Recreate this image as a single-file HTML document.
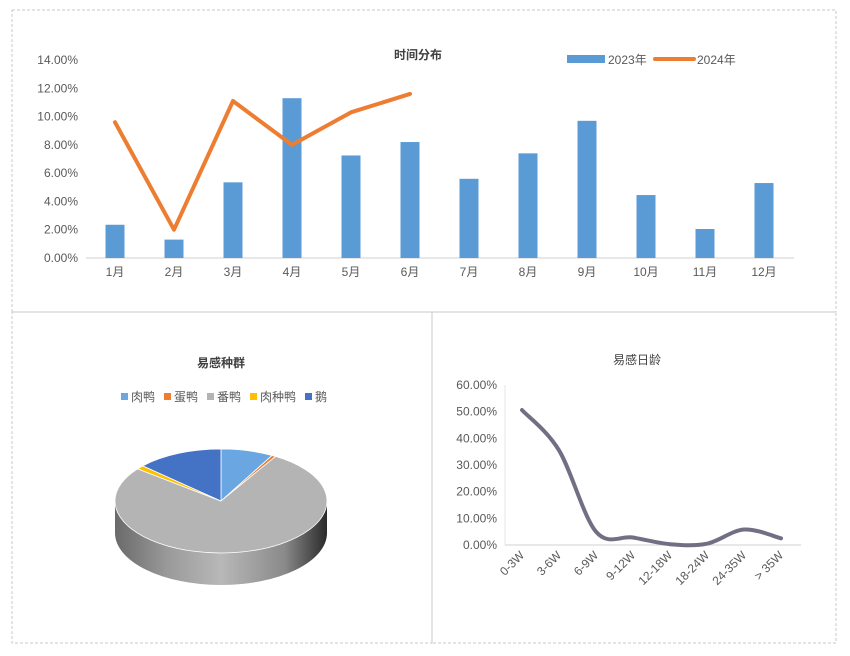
<!DOCTYPE html>
<html><head><meta charset="utf-8">
<style>
body{margin:0;background:#fff;font-family:"Liberation Sans","Noto Sans CJK SC",sans-serif;}
svg{display:block}
text{font-family:"Liberation Sans","Noto Sans CJK SC",sans-serif;fill:#595959;font-size:12px}
</style></head><body>
<svg width="850" height="656">
<rect x="12" y="10" width="824" height="302" fill="none" stroke="#c8c8c8" stroke-dasharray="3,2"/>
<rect x="12" y="312" width="420" height="331" fill="none" stroke="#c8c8c8" stroke-dasharray="3,2"/>
<rect x="432" y="312" width="404" height="331" fill="none" stroke="#c8c8c8" stroke-dasharray="3,2"/>
<g id="top"></g><g id="pie"></g><g id="age"></g>
</svg>
<script>
const months=['1月','2月','3月','4月','5月','6月','7月','8月','9月','10月','11月','12月'];
const s2023=[2.35,1.3,5.35,11.3,7.25,8.2,5.6,7.4,9.7,4.45,2.05,5.3];
const s2024=[9.6,2.0,11.1,8.0,10.3,11.6];
const topTicks=[0,2,4,6,8,10,12,14];
const species=['肉鸭','蛋鸭','番鸭','肉种鸭','鹅'];
const speciesVals=[8,0.6,77,1.2,13.2];
const ages=['0-3W','3-6W','6-9W','9-12W','12-18W','18-24W','24-35W','> 35W'];
const ageVals=[50.6,35.5,5,2.8,0.3,0.5,5.8,2.5];
const ageTicks=[0,10,20,30,40,50,60];

const NS='http://www.w3.org/2000/svg';
function mk(p,t,a,txt){const e=document.createElementNS(NS,t);for(const k in a)e.setAttribute(k,a[k]);if(txt!==undefined)e.textContent=txt;p.appendChild(e);return e;}

// top chart
const T=document.getElementById('top');
const ty=v=>258-v*14.143, tx=i=>115+i*59;
let e=mk(T,'text',{x:418,y:59,'text-anchor':'middle','font-weight':'bold','font-size':'13',style:'fill:#404040'},'时间分布');

topTicks.forEach(v=>{e=mk(T,'text',{x:78,y:ty(v)+4,'text-anchor':'end'},v.toFixed(2)+'%');
});
e=mk(T,'line',{x1:86,x2:794,y1:258,y2:258,stroke:'#d0d0d0'});

months.forEach((m,i)=>{e=mk(T,'text',{x:tx(i),y:276,'text-anchor':'middle'},m);
});
s2023.forEach((v,i)=>{e=mk(T,'rect',{x:tx(i)-9.5,y:ty(v),width:19,height:258-ty(v),fill:'#5b9bd5'});
});
e=mk(T,'polyline',{points:s2024.map((v,i)=>tx(i)+','+ty(v)).join(' '),fill:'none',stroke:'#ed7d31','stroke-width':4,'stroke-linejoin':'round','stroke-linecap':'round'});

e=mk(T,'rect',{x:567,y:55,width:38,height:8,fill:'#5b9bd5'});

e=mk(T,'text',{x:608,y:64},'2023年');
e=mk(T,'line',{x1:655,x2:694,y1:59,y2:59,stroke:'#ed7d31','stroke-width':4,'stroke-linecap':'round'});

e=mk(T,'text',{x:697,y:64},'2024年');

// pie
const P=document.getElementById('pie');
e=mk(P,'text',{x:221,y:367,'text-anchor':'middle','font-weight':'bold','font-size':'13',style:'fill:#404040'},'易感种群');

const cols=['#6aa7e2','#ed7d31','#b4b4b4','#ffc000','#4472c4'];
let lx=121;
species.forEach((s,i)=>{e=mk(P,'rect',{x:lx,y:393,width:7,height:7,fill:cols[i]});

e=mk(P,'text',{x:lx+10,y:401},s);
lx+=10+s.length*12+9;});
const cx=221,cy=501,rx=106,ry=52,dep=32;
const defs=mk(P,'defs',{});
const g=mk(defs,'linearGradient',{id:'side',x1:0,x2:1,y1:0,y2:0});
[['0','#6a6a6a'],['0.25','#9a9a9a'],['0.5','#b8b8b8'],['0.8','#8a8a8a'],['1','#2a2a2a']].forEach(s=>mk(g,'stop',{offset:s[0],'stop-color':s[1]}));
e=mk(P,'path',{d:`M${cx-rx},${cy} L${cx-rx},${cy+dep} A${rx},${ry} 0 0 0 ${cx+rx},${cy+dep} L${cx+rx},${cy} A${rx},${ry} 0 0 1 ${cx-rx},${cy}Z`,fill:'url(#side)'});

const tot=speciesVals.reduce((a,b)=>a+b,0);let acc=0;
speciesVals.forEach((v,i)=>{const a0=acc/tot*2*Math.PI;acc+=v;const a1=acc/tot*2*Math.PI;
const p=a=>[cx+rx*Math.sin(a),cy-ry*Math.cos(a)];const[x0,y0]=p(a0),[x1,y1]=p(a1);
e=mk(P,'path',{d:`M${cx},${cy} L${x0},${y0} A${rx},${ry} 0 ${a1-a0>Math.PI?1:0} 1 ${x1},${y1}Z`,fill:cols[i],stroke:'#fff','stroke-width':0.8});
});

// age chart
const A=document.getElementById('age');
const ay=v=>545-v*2.667, ax=i=>522+i*37;
e=mk(A,'text',{x:637,y:364,'text-anchor':'middle','font-size':'13',style:'fill:#404040'},'易感日龄');

ageTicks.forEach(v=>{e=mk(A,'text',{x:497,y:ay(v)+4,'text-anchor':'end'},v.toFixed(2)+'%');
});
e=mk(A,'line',{x1:505,x2:801,y1:545,y2:545,stroke:'#d0d0d0'});
e=mk(A,'line',{x1:505,x2:505,y1:385,y2:545,stroke:'#e4e4e4'});
ages.forEach((a,i)=>{e=mk(A,'text',{x:ax(i)+3,y:556,'text-anchor':'end',transform:`rotate(-45 ${ax(i)+3} 556)`},a);
});
const pts=ageVals.map((v,i)=>[ax(i),ay(v)]);
let d='M'+pts[0].join(',');
for(let i=0;i<pts.length-1;i++){const p0=pts[Math.max(i-1,0)],p1=pts[i],p2=pts[i+1],p3=pts[Math.min(i+2,pts.length-1)];
d+=` C${p1[0]+(p2[0]-p0[0])/6},${p1[1]+(p2[1]-p0[1])/6} ${p2[0]-(p3[0]-p1[0])/6},${p2[1]-(p3[1]-p1[1])/6} ${p2[0]},${p2[1]}`;}
e=mk(A,'path',{d:d,fill:'none',stroke:'#726f85','stroke-width':4,'stroke-linecap':'round'});

</script>
</body></html>
